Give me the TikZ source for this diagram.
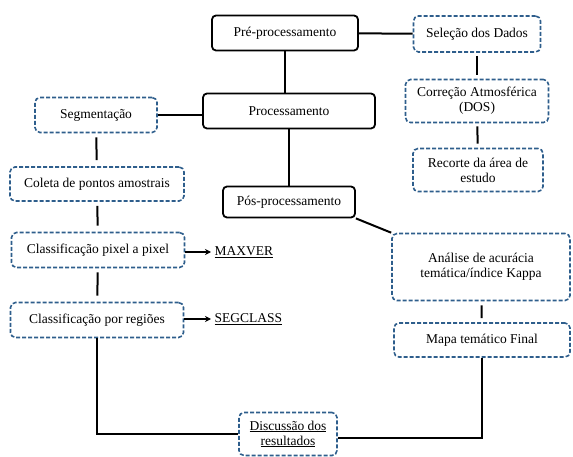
\documentclass[tikz,border=0pt]{standalone}
\usepackage{fontspec}
\setmainfont{Liberation Serif}
\usetikzlibrary{arrows.meta,positioning}
\definecolor{dashblue}{RGB}{46,94,140}

\begin{document}
\begin{tikzpicture}[
  x=1pt,y=-1pt,
  font=\fontsize{13.5}{15}\selectfont,
  etapa/.style={draw,rounded corners=4pt,line width=1.8pt,align=center,inner sep=2pt},
  passo/.style={draw=dashblue,rounded corners=5pt,line width=1.6pt,dash pattern=on 4pt off 2pt,align=center,inner sep=2pt},
  liga/.style={line width=2pt},
  >={Stealth[length=6pt,width=6pt]}]
\useasboundingbox (0,0) rectangle (573,457);
\node[etapa,minimum width=146pt,minimum height=35pt] (pre) at (285,33) {Pré-processamento};
\node[passo,minimum width=127pt,minimum height=36pt] (sel) at (477,34) {Seleção dos Dados};
\node[passo,minimum width=143pt,minimum height=43pt] (cor) at (477,101) {Correção Atmosférica\\(DOS)};
\node[passo,minimum width=130pt,minimum height=43pt] (rec) at (478,170) {Recorte da área de\\estudo};
\node[etapa,minimum width=172pt,minimum height=35pt] (proc) at (289,111) {Processamento};
\node[passo,minimum width=122pt,minimum height=35pt] (seg) at (96,115) {Segmentação};
\node[passo,minimum width=174pt,minimum height=34pt] (col) at (97,184) {Coleta de pontos amostrais};
\node[passo,minimum width=173pt,minimum height=35pt] (cpp) at (98,250) {Classificação pixel a pixel};
\node[passo,minimum width=173pt,minimum height=35pt] (cpr) at (97,320) {Classificação por regiões};
\node[anchor=west] (maxver) at (211,252) {\underline{MAXVER}};
\node[anchor=west] (segclass) at (211,319) {\underline{SEGCLASS}};
\node[etapa,minimum width=132pt,minimum height=31pt] (pos) at (289,202) {Pós-processamento};
\node[passo,minimum width=178pt,minimum height=67pt] (ana) at (481,267) {Análise de acurácia\\temática/índice Kappa};
\node[passo,minimum width=176pt,minimum height=34pt] (mapa) at (482,340) {Mapa temático Final};
\node[passo,minimum width=98pt,minimum height=43pt] (disc) at (288,434) {\underline{Discussão dos}\\\underline{resultados}};
\draw[liga] (pre) -- (sel);
\draw[liga] (pre.south) -- (pre.south |- proc.north);
\draw[liga,shorten <=3pt,shorten >=4pt] (sel) -- (cor);
\draw[liga,shorten <=3pt,shorten >=4pt] (cor) -- (rec);
\draw[liga] (seg.east) -- (seg.east -| proc.west);
\draw[liga,shorten <=4pt,shorten >=6pt] (seg) -- (col);
\draw[liga,shorten <=4pt,shorten >=6pt] (col) -- (cpp);
\draw[liga,shorten <=4pt,shorten >=6pt] (cpp) -- (cpr);
\draw[liga,->] (cpp.east |- maxver) -- (maxver);
\draw[liga,->] (cpr.east |- segclass) -- (segclass);
\draw[liga] (proc) -- (pos);
\draw[liga] (pos.south east) -- (ana.north west);
\draw[liga,shorten <=4pt,shorten >=4pt] (ana) -- (mapa);
\draw[liga] (cpr.south) |- (disc.west);
\draw[liga] (mapa.south) |- ([yshift=-4pt]disc.east);
\end{tikzpicture}
\end{document}
